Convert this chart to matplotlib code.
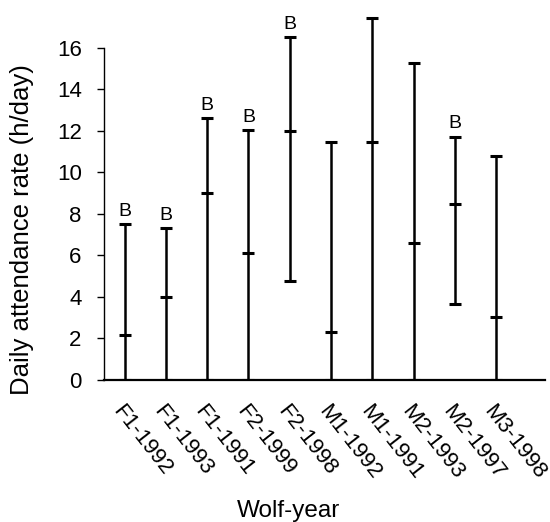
import matplotlib
matplotlib.use('Agg')
import matplotlib.pyplot as plt

plt.rcParams['font.family'] = ['Liberation Sans', 'DejaVu Sans']

# wolf-year groups with min / middle / max attendance (h/day)
wolf_years = ['F1-1992', 'F1-1993', 'F1-1991', 'F2-1999', 'F2-1998',
              'M1-1992', 'M1-1991', 'M2-1993', 'M2-1997', 'M3-1998']
low = [0, 0, 0, 0, 4.75, 0, 0, 0, 3.65, 0]
mid = [2.15, 4.0, 9.0, 6.1, 12.0, 2.33, 11.45, 6.62, 8.5, 3.05]
high = [7.5, 7.3, 12.6, 12.05, 16.5, 11.45, 17.45, 15.28, 11.72, 10.8]
marked = [True, True, True, True, True, False, False, False, True, False]

fig = plt.figure(figsize=(5.5, 5.22), dpi=100)
ax = fig.add_axes([0.189, 0.272, 0.801, 0.728])

x = list(range(1, len(wolf_years) + 1))
ax.vlines(x, low, high, color='black', linewidth=1.8)
for vals in (low, mid, high):
    ax.scatter(x, vals, marker='_', s=80, color='black', linewidths=2.2, zorder=3)

for xi, hi, m in zip(x, high, marked):
    if m:
        ax.text(xi, hi + 0.2, 'B', ha='center', va='bottom', fontsize=14)

ax.set_xlim(0.5, 11.17)
ax.set_ylim(0, 18.3)
ax.set_yticks(range(0, 17, 2))
ax.spines['top'].set_visible(False)
ax.spines['right'].set_visible(False)
ax.spines['left'].set_bounds(0, 16)
ax.spines['left'].set_linewidth(1.0)
ax.spines['bottom'].set_linewidth(1.6)
ax.tick_params(axis='y', direction='out', length=5, width=1.0, labelsize=16, pad=11)
ax.tick_params(axis='x', length=0, labelsize=16, pad=15)
ax.set_xticks(x)
ax.set_xticklabels(wolf_years, rotation=-52, ha='left', va='top', rotation_mode='anchor')

ax.set_ylabel('Daily attendance rate (h/day)', fontsize=18.5)
ax.yaxis.set_label_coords(-0.158, 0.395)
ax.set_xlabel('Wolf-year', fontsize=17.5)
ax.xaxis.set_label_coords(0.42, -0.315)

fig.savefig('out.png', dpi=100)
